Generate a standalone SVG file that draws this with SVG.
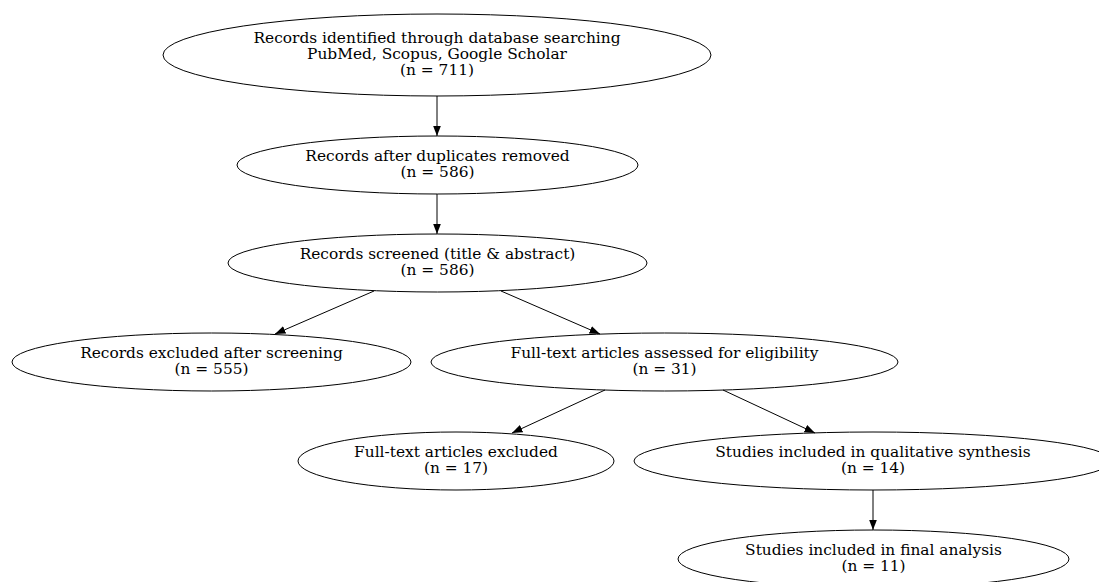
<svg xmlns="http://www.w3.org/2000/svg" width="1099" height="582" viewBox="0 0 1099 582">
<style>
.n ellipse{fill:none;stroke:#000;stroke-width:1}
.n text{font-family:"DejaVu Serif","Liberation Serif",serif;font-size:15.4px;text-anchor:middle;fill:#000}
.e line{stroke:#000;stroke-width:1}
</style>
<defs>
<marker id="ah" markerUnits="userSpaceOnUse" markerWidth="11" markerHeight="9" refX="10.5" refY="4" orient="auto">
<path d="M0,0 L10.5,4 L0,8 z" fill="#000"/>
</marker>
</defs>
<rect width="1099" height="582" fill="#fff"/>
<g class="e">
<line x1="437" y1="96" x2="437" y2="136" marker-end="url(#ah)"/>
<line x1="437" y1="194" x2="437" y2="234" marker-end="url(#ah)"/>
<line x1="374" y1="291" x2="275" y2="334" marker-end="url(#ah)"/>
<line x1="501" y1="291" x2="600" y2="334" marker-end="url(#ah)"/>
<line x1="605" y1="390" x2="512" y2="433" marker-end="url(#ah)"/>
<line x1="723" y1="390" x2="815" y2="433" marker-end="url(#ah)"/>
<line x1="873" y1="490" x2="873" y2="530" marker-end="url(#ah)"/>
</g>
<g id="n1" class="n"><ellipse cx="437" cy="55" rx="274" ry="41"/>
<text x="437" y="43">Records identified through database searching</text>
<text x="437" y="59">PubMed, Scopus, Google Scholar</text>
<text x="437" y="75">(n = 711)</text></g>
<g id="n2" class="n"><ellipse cx="437.5" cy="165" rx="200.5" ry="29"/>
<text x="437.5" y="161">Records after duplicates removed</text>
<text x="437.5" y="177">(n = 586)</text></g>
<g id="n3" class="n"><ellipse cx="437.5" cy="263" rx="209.5" ry="29"/>
<text x="437.5" y="259">Records screened (title &amp; abstract)</text>
<text x="437.5" y="275">(n = 586)</text></g>
<g id="n4" class="n"><ellipse cx="211.5" cy="362" rx="199.5" ry="29"/>
<text x="211.5" y="358">Records excluded after screening</text>
<text x="211.5" y="374">(n = 555)</text></g>
<g id="n5" class="n"><ellipse cx="664.5" cy="362" rx="233.5" ry="29"/>
<text x="664.5" y="358">Full-text articles assessed for eligibility</text>
<text x="664.5" y="374">(n = 31)</text></g>
<g id="n6" class="n"><ellipse cx="456" cy="461" rx="158" ry="29"/>
<text x="456" y="457">Full-text articles excluded</text>
<text x="456" y="473">(n = 17)</text></g>
<g id="n7" class="n"><ellipse cx="873" cy="461" rx="239" ry="29"/>
<text x="873" y="457">Studies included in qualitative synthesis</text>
<text x="873" y="473">(n = 14)</text></g>
<g id="n8" class="n"><ellipse cx="873.5" cy="559" rx="195.5" ry="29"/>
<text x="873.5" y="555">Studies included in final analysis</text>
<text x="873.5" y="571">(n = 11)</text></g>
</svg>
